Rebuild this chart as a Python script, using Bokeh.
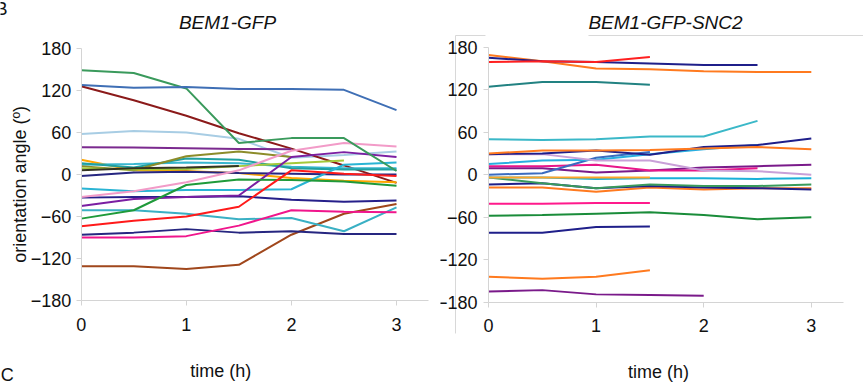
import math
from bokeh.plotting import figure
from bokeh.models import Range1d, FixedTicker, Label, LinearAxis
from bokeh.layouts import row
from bokeh.embed import file_html
from bokeh.resources import INLINE

times = [0, 0.5, 1, 1.5, 2, 2.5, 3]
y_ticks = [-180, -120, -60, 0, 60, 120, 180]
x_ticks = [0, 1, 2, 3]

# BEM1-GFP (left panel): orientation angle per cell over time
left_angles = [
    [-131, -131, -135, -129, -86, -56, -42],
    [58, 62, 60, 51, 24, 28, 33],
    [126, 106, 84, 59, 37, 13, -12],
    [39, 38.5, 37.6, 36.5, 36],
    [21, 6, 5, 2, -5, -9, -11],
    [14, 15, 17, 16, 11, 9, 9],
    [16, 10, 23, 21, 9, 7, 7],
    [12, 6, 26, 33, 25],
    [9, 7, 8, 12, 16, 20],
    [6, 9, 10, 12],
    [-2, 3, 4, 2, 1, 0, 0],
    [-20, -24, -22, -22, -21, 14, 17],
    [-33, -32, -32, -31, -36, -39, -37],
    [-45, -35, -32, -30, 25, 32, 25],
    [-51, -51, -56, -64, -62, -81, -47],
    [-63, -51, -15, -7, -8, -10, -16],
    [-74, -66, -60, -46, 6, 1, -2],
    [-86, -83, -78, -83, -81, -85, -85],
    [-90, -90, -88, -73, -51, -53, -54],
    [-32, -24, -11, 6, 34, 45, 40],
    [149, 145, 123, 45, 52, 52, 5],
    [128, 124, 125, 122, 122, 121, 92],
]
left_colors = [
    "#a0471c", "#a8cde4", "#8b1a1a", "#7b2a8f", "#ffa500", "#39b7d0",
    "#20a0a0", "#8c8c2a", "#a4c93a", "#333322", "#262680", "#2ab4d4",
    "#261f8a", "#7b1fa2", "#3ab0c4", "#1f9a3a", "#ff1a1a", "#262680",
    "#f0168c", "#f29bc8", "#3a9a5c", "#3f6fb5",
]

# BEM1-GFP-SNC2 (right panel)
right_angles = [
    [-165, -163, -169, -170, -171],
    [-144, -147, -144, -135],
    [-82, -82, -74, -73],
    [-58, -57, -55, -53, -57, -63, -60],
    [-41, -41, -40, -40],
    [-18, -18, -24, -18, -21, -19, -19],
    [-14, -12, -19, -16, -18, -19, -21],
    [-4, -12, -19, -14, -16, -16, -14],
    [-4, -4, -6, -5, -5, -6, -5],
    [-4, -4, -4, -4],
    [9, 9, 3, 6, 10, 12, 14],
    [12, 12, 14, 6, 6, 9],
    [0, 2, 24, 32],
    [15, 20, 21, 29, 36, 42],
    [29, 29, 20, 20, 6, 5, 0],
    [29, 30, 34, 28, 39, 42, 51],
    [30, 34, 34, 35, 37, 39, 36],
    [50, 49, 50, 54, 54, 76],
    [124, 131, 131, 127],
    [169, 160, 150, 149, 146, 145, 145],
    [165, 160, 159, 157, 155, 155],
    [159, 160, 159, 166],
]
right_colors = [
    "#7a1a8a", "#ff7a1f", "#1f1f8a", "#1a8c3a", "#ff1a8c", "#ff7a1f",
    "#1f1f8a", "#3a9a5c", "#1ab0d8", "#ffa528", "#7a1a8a", "#e8168a",
    "#3a6cc0", "#29aee0", "#c9a0d8", "#1f1f8a", "#ff7a1f", "#3bb8c8",
    "#228282", "#ff7a1f", "#1f1f8a", "#ff2020",
]

FONT = "Liberation Sans"
AXIS_GREY = "#d4d4d4"
TEXT = "#111111"


def make_panel(width, height, xr, yr, angles, colors, ylab_standoff):
    p = figure(width=width, height=height, output_backend="svg",
               toolbar_location=None, title_location=None,
               x_range=Range1d(*xr), y_range=Range1d(*yr),
               x_axis_location=None, y_axis_location=None,
               min_border_left=0, min_border_right=0,
               min_border_top=0, min_border_bottom=0)
    p.outline_line_color = None
    p.background_fill_color = "white"
    p.border_fill_color = "white"
    p.xgrid.visible = False
    p.ygrid.visible = False
    xa = LinearAxis(fixed_location=-180, bounds=(0, 3.3),
                    ticker=FixedTicker(ticks=x_ticks))
    ya = LinearAxis(fixed_location=0, bounds=(-180, 180),
                    ticker=FixedTicker(ticks=y_ticks))
    for ax in (xa, ya):
        ax.axis_line_color = AXIS_GREY
        ax.major_tick_line_color = AXIS_GREY
        ax.minor_tick_line_color = None
        ax.major_tick_out = 5
        ax.major_tick_in = 0
        ax.major_label_text_font = FONT
        ax.major_label_text_font_size = "18px"
        ax.major_label_text_color = TEXT
    xa.major_label_standoff = 12
    ya.major_label_standoff = ylab_standoff
    p.add_layout(xa, "below")
    p.add_layout(ya, "left")
    for vals, c in zip(angles, colors):
        p.line(times[:len(vals)], vals, line_color=c, line_width=2)
    return p


def add_text(p, x, y, text, size="18px", style="normal", align="center",
             angle=0.0):
    p.add_layout(Label(x=x, y=y, text=text, text_font=FONT,
                       text_font_size=size, text_font_style=style,
                       text_align=align, text_baseline="middle",
                       text_color=TEXT, angle=angle))


# left panel: canvas x 0..440, t=0 at x=80.7 (105.1 px/h); 180 deg at y=48, -180 at y=300
p1 = make_panel(440, 389, (-0.7678, 3.4186), (-307.1, 248.6),
                left_angles, left_colors, 5)
add_text(p1, 1.392, 217, "BEM1-GFP", "19px", "italic")
add_text(p1, 1.327, -281, "time (h)")
add_text(p1, -0.578, -14, "orientation angle (º)", angle=math.pi / 2)
add_text(p1, -0.700, 237, "B", "18px", "normal", "right")
add_text(p1, -0.765, -287, "C", "18px", "normal", "left")

# right panel: canvas x 440..863, t=0 at x=488 (107.6 px/h); 180 deg at y=46.7, -180 at y=301.7
p2 = make_panel(423, 389, (-0.446, 3.485), (-303.3, 245.9),
                right_angles, right_colors, 6)
add_text(p2, 1.645, 214.9, "BEM1-GFP-SNC2", "19px", "italic")
add_text(p2, 1.580, -278, "time (h)")

# faint frame remnants around the right panel (decoration, not data)
frame_x0 = [-0.3067, -0.3067, 0.929]
frame_x1 = [-0.3067, -0.028, 3.485]
frame_y0 = [196.5, 196.5, 196.5]
frame_y1 = [-224.2, 196.5, 196.5]
p2.segment(frame_x0, frame_y0, frame_x1, frame_y1, line_color="#d8d8d8",
           line_width=1)

layout = row(p1, p2)
open("out.html", "w").write(file_html(layout, INLINE))
